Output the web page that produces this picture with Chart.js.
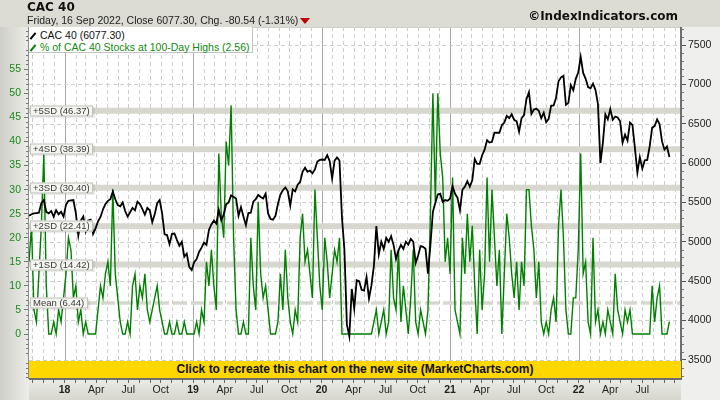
<!DOCTYPE html>
<html>
<head>
<meta charset="utf-8">
<script src="https://cdn.jsdelivr.net/npm/chart.js@4.4.0/dist/chart.umd.min.js"></script>
<style>
html, body { margin: 0; padding: 0; background: #e0e0da; }
#wrap { position: relative; width: 720px; height: 400px; overflow: hidden; }
#chart { position: absolute; left: 0; top: 0; }
.t { position: absolute; white-space: nowrap; }
#title { left: 27px; top: 1px; font: bold 12px/12px "DejaVu Sans"; color: #111; }
#sub { left: 27px; top: 14px; font: 10.5px/12px "Liberation Sans"; color: #222; }
#tri { position: absolute; left: 300px; top: 18px; width: 0; height: 0;
  border-left: 5px solid transparent; border-right: 5px solid transparent; border-top: 6px solid #c00000; }
#copy { right: 42px; top: 10px; font: bold 12px/12px "DejaVu Sans"; color: #111; }
#legend { left: 29px; top: 27px; width: 223px; height: 25px; background: #fff; border: 1px solid #c4c4c4; border-top: none; border-left: none; }
.lg { position: absolute; left: 11px; font: 10.5px/12px "Liberation Sans"; }
.mk { position: absolute; left: -8px; top: 3px; width: 2px; height: 8px; transform: rotate(40deg); }
#banner { left: 29px; top: 361px; width: 652px; height: 17px; background: #ffd700; text-align: center;
  font: bold 12px/17px "Liberation Sans"; color: #111; }
</style>
</head>
<body>
<div id="wrap">
  <canvas id="chart" width="720" height="400"></canvas>
  <div class="t" id="title">CAC 40</div>
  <div class="t" id="sub">Friday, 16 Sep 2022, Close 6077.30, Chg. -80.54 (-1.31%)</div>
  <div id="tri"></div>
  <div class="t" id="copy">©IndexIndicators.com</div>
  <div class="t" id="legend">
    <div class="lg" style="top:2px;color:#111"><span class="mk" style="background:#000"></span>CAC 40 (6077.30)</div>
    <div class="lg" style="top:14px;color:#108a10"><span class="mk" style="background:#008000"></span>% of CAC 40 Stocks at 100-Day Highs (2.56)</div>
  </div>
  <div class="t" id="banner">Click to recreate this chart on the new site (MarketCharts.com)</div>
</div>
<script>
// Weekly closes (Fridays), starting Fri 22 Sep 2017
const cac2017 = [5330, 5350, 5360, 5365, 5370, 5490, 5530, 5380, 5360, 5390, 5320, 5400, 5350, 5380, 5320];
const cac2018 = [5470, 5520, 5525, 5530, 5360, 5080, 5270, 5320, 5140, 5270, 5280, 5100, 5170,
  5260, 5315, 5410, 5480, 5520, 5540, 5640, 5540, 5465, 5450, 5500, 5390, 5320,
  5375, 5430, 5400, 5510, 5480, 5415, 5345, 5430, 5400, 5250, 5350, 5490, 5530,
  5360, 5095, 5085, 4970, 5100, 5105, 5025, 4950, 5000, 4810, 4850, 4680, 4640];
const cac2019 = [4740, 4780, 4870, 4925, 4990, 4960, 5150, 5220, 5270, 5230, 5405, 5270, 5350,
  5475, 5500, 5590, 5570, 5550, 5330, 5440, 5320, 5210, 5365, 5370, 5510, 5540,
  5595, 5570, 5550, 5610, 5360, 5290, 5280, 5330, 5480, 5600, 5655, 5690, 5640,
  5460, 5665, 5640, 5725, 5760, 5890, 5940, 5890, 5905, 5870, 5920, 6020, 6040];
const cac2020 = [6045, 6040, 6100, 6025, 5805, 6030, 6070, 6030, 5310, 4900, 3950, 3800, 4400,
  4150, 4510, 4500, 4390, 4380, 4550, 4280, 4445, 4695, 5200, 4840, 5000, 4910,
  5050, 5000, 5070, 4960, 4780, 4890, 4960, 4910, 5000, 4965, 5035, 5000, 4730,
  4825, 4945, 4935, 4910, 4595, 4960, 5380, 5495, 5600, 5610, 5505, 5530, 5520];
const cac2021 = [5550, 5705, 5610, 5560, 5400, 5660, 5700, 5770, 5700, 5780, 6050, 5990, 5990,
  6100, 6170, 6290, 6260, 6270, 6385, 6385, 6385, 6480, 6515, 6600, 6570, 6620,
  6550, 6530, 6400, 6570, 6610, 6815, 6900, 6625, 6680, 6690, 6665, 6570, 6640,
  6520, 6560, 6730, 6730, 6830, 7040, 7090, 7110, 6740, 6765, 6990, 6925, 7070, 7150];
const cac2022 = [7350, 7145, 7070, 6965, 6950, 7010, 6930, 6750, 6000, 6260, 6620, 6555,
  6685, 6550, 6590, 6580, 6530, 6260, 6360, 6285, 6515, 6485, 6190, 5880, 6075,
  5930, 6035, 6040, 6215, 6450, 6470, 6555, 6495, 6275, 6170, 6210, 6077.3];

// % of CAC 40 stocks at 100-day highs, same weeks
const pct2017 = [15, 22.5, 5, 2.5, 12.5, 22.5, 37.5, 10, 0, 0, 2.5, 0, 5, 2.5, 7.5];
const pct2018 = [12.5, 20, 17.5, 7.5, 10, 2.5, 5, 0, 2.5, 0, 0, 0, 0,
  5, 10, 7.5, 12.5, 15, 10, 30, 12.5, 7.5, 2.5, 0, 0,
  2.5, 0, 10, 12.5, 5, 10, 7.5, 12.5, 5, 2.5, 5, 7.5, 10,
  5, 2.5, 0, 0, 2.5, 0, 0, 2.5, 0, 0, 2.5, 0, 0, 0];
const pct2019 = [0, 2.5, 0, 5, 2.5, 15, 10, 17.5, 10, 5, 37.5, 25, 20,
  40, 35, 47.5, 20, 5, 0, 0, 2.5, 0, 0, 20, 10, 5,
  27.5, 12.5, 7.5, 10, 5, 0, 0, 0, 2.5, 12.5, 5, 17.5, 7.5,
  2.5, 0, 5, 2.5, 20, 25, 15, 17.5, 12.5, 7.5, 30, 20, 10];
const pct2020 = [5, 20, 15, 7.5, 12.5, 17.5, 15, 20, 0, 0, 0, 0, 0,
  0, 0, 0, 0, 0, 0, 0, 0, 2.5, 5, 0, 2.5, 5,
  0, 2.5, 17.5, 7.5, 5, 17.5, 2.5, 10, 5, 0, 7.5, 17.5, 2.5,
  0, 5, 2.5, 0, 5, 25, 50, 27.5, 50, 37.5, 32.5, 15, 20];
const pct2021 = [12.5, 32.5, 5, 2.5, 0, 20, 12.5, 25, 15, 22.5, 10, 0, 17.5,
  5, 12.5, 32.5, 15, 30, 20, 10, 17.5, 0, 12.5, 25, 20, 12.5,
  7.5, 15, 5, 15, 10, 30, 30, 22.5, 17.5, 7.5, 15, 2.5, 0,
  2.5, 0, 5, 7.5, 2.5, 22.5, 30, 20, 5, 0, 0, 7.5, 7.5, 17.5];
const pct2022 = [37.5, 12.5, 15, 2.5, 0, 20, 2.5, 5, 0, 2.5, 0, 5,
  2.5, 0, 12.5, 5, 2.5, 0, 5, 2.5, 5, 0, 0, 0, 0,
  0, 0, 0, 0, 10, 2.5, 7.5, 10, 0, 0, 0, 2.56];

const cac = [].concat(cac2017, cac2018, cac2019, cac2020, cac2021, cac2022);
const pct = [].concat(pct2017, pct2018, pct2019, pct2020, pct2021, pct2022);

// reference bands on the % axis
const sdNames = ['+5SD', '+4SD', '+3SD', '+2SD', '+1SD'];
const sdLevels = [46.37, 38.39, 30.40, 22.41, 14.42];
const meanLevel = 6.44;

// tick labels
const leftTicks = [0, 5, 10, 15, 20, 25, 30, 35, 40, 45, 50, 55];
const rightTicks = [3500, 4000, 4500, 5000, 5500, 6000, 6500, 7000, 7500];
const monthNames = ['', '', '', 'Apr', '', '', 'Jul', '', '', 'Oct', '', ''];

const DAY = 86400000;
function decYear(ms) {
  const y = new Date(ms).getUTCFullYear();
  const a = Date.UTC(y, 0, 1), b = Date.UTC(y + 1, 0, 1);
  return y + (ms - a) / (b - a);
}
const firstWeek = Date.UTC(2017, 8, 22);
const weekX = cac.map((_, i) => decYear(firstWeek + i * 7 * DAY));

const xMin = 2017.7230, xMax = 2022.7970;
const monthTicks = [], monthLabels = [], monthIsYear = [];
for (let y = 2017; y <= 2022; y++) {
  for (let m = 0; m < 12; m++) {
    const t = decYear(Date.UTC(y, m, 1));
    if (t < xMin || t > xMax) continue;
    monthTicks.push(t);
    monthIsYear.push(m === 0);
    let lab = m === 0 ? String(y).slice(2) : monthNames[m];
    // no labels on the partial quarters at both ends
    if (y === 2017 || (y === 2022 && m > 6)) lab = '';
    monthLabels.push(lab);
  }
}

const FONT = 'Liberation Sans';

const paint = {
  id: 'paint',
  beforeDraw(chart) {
    const { ctx, chartArea: a, width, height } = chart;
    ctx.save();
    let g = ctx.createLinearGradient(0, 0, 0, height);
    g.addColorStop(0, '#dcdcd4');
    g.addColorStop(1, '#d8d8d0');
    ctx.fillStyle = g;
    ctx.fillRect(0, 0, width, height);
    g = ctx.createLinearGradient(0, 0, a.left, 0);
    g.addColorStop(0, '#cfcfc8');
    g.addColorStop(1, '#ededea');
    ctx.fillStyle = g;
    ctx.fillRect(0, a.top, a.left, height - a.top);
    ctx.fillStyle = '#efefed';
    ctx.fillRect(a.right, a.top, width - a.right, height - a.top);
    g = ctx.createLinearGradient(0, a.bottom, 0, height);
    g.addColorStop(0, '#ebebe7');
    g.addColorStop(1, '#d6d6ce');
    ctx.fillStyle = g;
    ctx.fillRect(a.left, a.bottom, a.right - a.left, height - a.bottom);
    ctx.fillStyle = '#ffffff';
    ctx.fillRect(a.left, a.top, a.right - a.left, a.bottom - a.top);
    ctx.restore();
  },
  beforeDatasetsDraw(chart) {
    const { ctx, chartArea: a, scales } = chart;
    ctx.save();
    ctx.lineWidth = 1;
    // month grid
    monthTicks.forEach((t, i) => {
      const x = Math.round(scales.x.getPixelForValue(t)) + 0.5;
      ctx.beginPath();
      if (monthIsYear[i]) { ctx.setLineDash([]); ctx.strokeStyle = '#a8a8a8'; }
      else { ctx.setLineDash([4, 3]); ctx.strokeStyle = '#cdcdcd'; }
      ctx.moveTo(x, a.top); ctx.lineTo(x, a.bottom); ctx.stroke();
    });
    // horizontal grid from right axis
    ctx.setLineDash([4, 3]);
    ctx.strokeStyle = '#cdcdcd';
    rightTicks.forEach(v => {
      const y = Math.round(scales.yR.getPixelForValue(v)) + 0.5;
      ctx.beginPath(); ctx.moveTo(a.left, y); ctx.lineTo(a.right, y); ctx.stroke();
    });
    // SD bands
    ctx.setLineDash([]);
    ctx.strokeStyle = '#d7d7cf';
    ctx.lineWidth = 6;
    sdLevels.forEach(v => {
      const y = scales.yL.getPixelForValue(v);
      ctx.beginPath(); ctx.moveTo(a.left, y); ctx.lineTo(a.right, y); ctx.stroke();
    });
    ctx.lineWidth = 3.5;
    ctx.setLineDash([14, 4]);
    const ym = scales.yL.getPixelForValue(meanLevel);
    ctx.beginPath(); ctx.moveTo(a.left, ym); ctx.lineTo(a.right, ym); ctx.stroke();
    ctx.restore();
  },
  afterDatasetsDraw(chart) {
    const { ctx, chartArea: a, scales } = chart;
    ctx.save();
    ctx.font = '9.5px "' + FONT + '"';
    ctx.textBaseline = 'middle';
    const labels = sdNames.map((n, i) => [n + ' (' + sdLevels[i].toFixed(2) + ')', sdLevels[i]]);
    labels.push(['Mean (' + meanLevel.toFixed(2) + ')', meanLevel]);
    labels.forEach(([txt, v]) => {
      const y = Math.round(scales.yL.getPixelForValue(v));
      const w = Math.ceil(ctx.measureText(txt).width) + 6;
      ctx.fillStyle = 'rgba(0,0,0,0.08)';
      ctx.fillRect(a.left + 2, y - 4, w + 1, 11);
      ctx.fillStyle = '#f4f4f1';
      ctx.fillRect(a.left + 1, y - 5.5, w, 11);
      ctx.strokeStyle = '#c2c2ba';
      ctx.lineWidth = 1;
      ctx.strokeRect(a.left + 1.5, y - 5, w - 1, 10);
      ctx.fillStyle = '#3a3a3a';
      ctx.fillText(txt, a.left + 4, y + 0.5);
    });
    // frame
    ctx.strokeStyle = '#8c8c8c';
    ctx.lineWidth = 1;
    ctx.beginPath(); ctx.moveTo(a.left - 0.5, a.top); ctx.lineTo(a.left - 0.5, a.bottom); ctx.stroke();
    ctx.strokeStyle = '#cfcfcf';
    ctx.beginPath(); ctx.moveTo(a.left, a.top + 0.5); ctx.lineTo(a.right, a.top + 0.5); ctx.stroke();
    ctx.strokeStyle = '#6e6e6e';
    ctx.lineWidth = 2;
    ctx.beginPath(); ctx.moveTo(a.right, a.top); ctx.lineTo(a.right, a.bottom + 1); ctx.stroke();
    ctx.beginPath(); ctx.moveTo(a.left, a.bottom); ctx.lineTo(a.right + 1, a.bottom); ctx.stroke();
    // minor ticks
    ctx.lineWidth = 1;
    ctx.strokeStyle = '#777';
    for (let v = -9; v <= 63; v++) {
      if (v % 5 === 0) continue;
      const y = Math.round(scales.yL.getPixelForValue(v)) + 0.5;
      ctx.beginPath(); ctx.moveTo(a.left - 3, y); ctx.lineTo(a.left - 1, y); ctx.stroke();
    }
    for (let v = 3300; v <= 7700; v += 100) {
      if (v % 500 === 0) continue;
      const y = Math.round(scales.yR.getPixelForValue(v)) + 0.5;
      ctx.beginPath(); ctx.moveTo(a.right + 1, y); ctx.lineTo(a.right + 3, y); ctx.stroke();
    }
    ctx.restore();
  }
};

new Chart(document.getElementById('chart'), {
  type: 'line',
  data: {
    datasets: [{
      label: 'CAC 40 (6077.30)',
      data: weekX.map((x, i) => ({ x: x, y: cac[i] })),
      yAxisID: 'yR',
      borderColor: '#000000',
      borderWidth: 1.8,
      pointRadius: 0,
      tension: 0
    }, {
      label: '% of CAC 40 Stocks at 100-Day Highs (2.56)',
      data: weekX.map((x, i) => ({ x: x, y: pct[i] })),
      yAxisID: 'yL',
      borderColor: '#008000',
      borderWidth: 1.4,
      pointRadius: 0,
      tension: 0
    }]
  },
  options: {
    responsive: false,
    animation: false,
    events: [],
    layout: { padding: { top: 27, left: 0, right: 0, bottom: 0 } },
    plugins: { legend: { display: false }, tooltip: { enabled: false } },
    scales: {
      x: {
        type: 'linear',
        min: xMin,
        max: xMax,
        afterBuildTicks: s => { s.ticks = monthTicks.map(v => ({ value: v })); },
        afterFit: s => { s.height = 21; },
        border: { display: false },
        grid: { drawOnChartArea: false, drawTicks: true, tickLength: 4, color: '#666' },
        ticks: {
          autoSkip: false, maxRotation: 0, minRotation: 0, padding: 1,
          color: '#222',
          font: c => ({ family: FONT, size: 10.5, weight: monthIsYear[c.index] ? 'bold' : 'normal' }),
          callback: (v, i) => monthLabels[i]
        }
      },
      yL: {
        type: 'linear',
        position: 'left',
        min: -9.35,
        max: 63.79,
        afterBuildTicks: s => { s.ticks = leftTicks.map(v => ({ value: v })); },
        afterFit: s => { s.width = 29; },
        border: { display: false },
        grid: { drawOnChartArea: false, tickLength: 5, color: '#777' },
        ticks: { color: '#1a8a1a', padding: 3, font: { family: FONT, size: 10.5 }, callback: v => String(v) }
      },
      yR: {
        type: 'linear',
        position: 'right',
        min: 3256,
        max: 7729,
        afterBuildTicks: s => { s.ticks = rightTicks.map(v => ({ value: v })); },
        afterFit: s => { s.width = 39; },
        border: { display: false },
        grid: { drawOnChartArea: false, tickLength: 5, color: '#555' },
        ticks: { color: '#222', padding: 2, font: { family: FONT, size: 10.5 }, callback: v => String(v) }
      }
    }
  },
  plugins: [paint]
});
</script>
</body>
</html>
